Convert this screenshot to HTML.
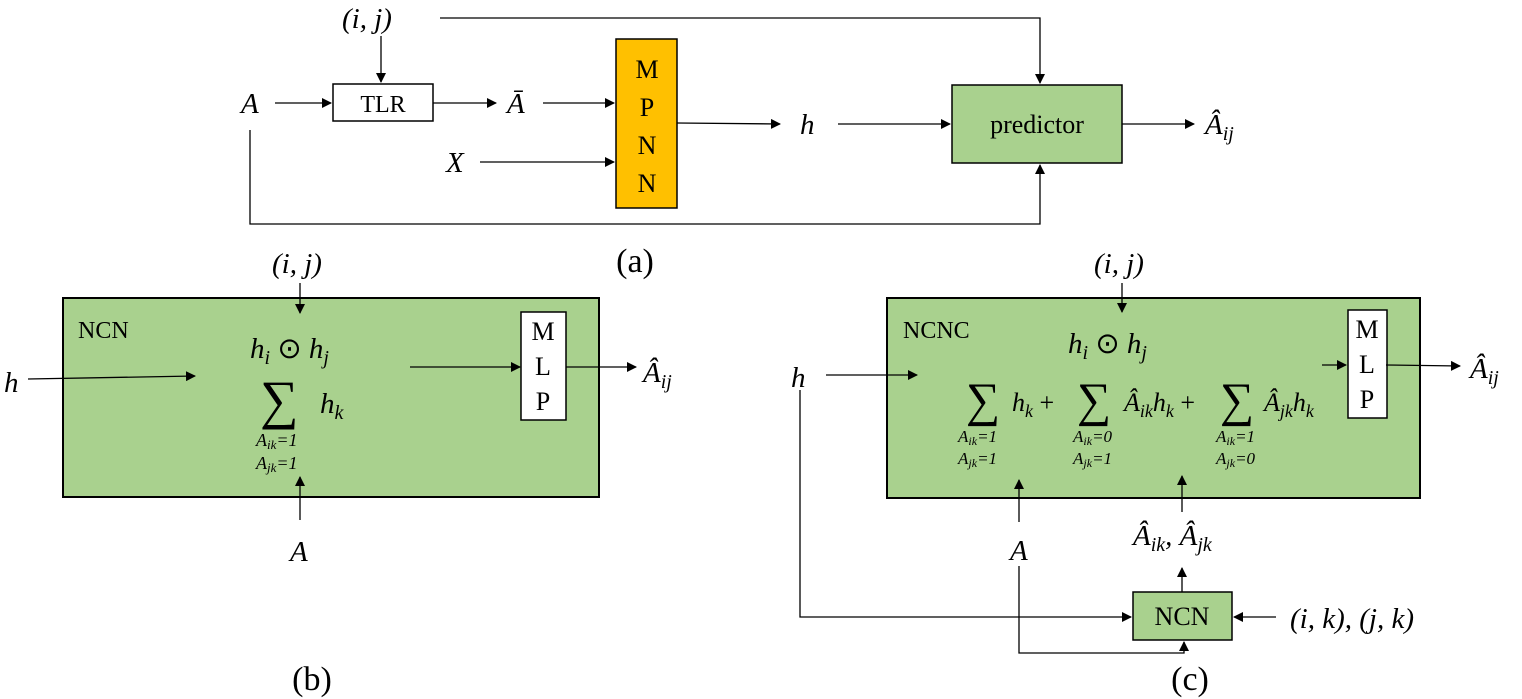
<!DOCTYPE html>
<html><head><meta charset="utf-8"><style>
html,body{margin:0;padding:0;background:#fff;}
svg{display:block;}
.m{font-family:"Liberation Serif",serif;font-style:italic;}
.r{font-family:"Liberation Serif",serif;}
</style></head><body>
<svg width="1522" height="699" viewBox="0 0 1522 699" xmlns="http://www.w3.org/2000/svg">
<defs><marker id="a" markerWidth="10" markerHeight="10" refX="9" refY="5" orient="auto" markerUnits="userSpaceOnUse"><path d="M0,0 L10,5 L0,10 z" fill="#000"/></marker></defs>
<rect x="333" y="84" width="100" height="37" fill="#fff" stroke="#000" stroke-width="1.5"/>
<rect x="616" y="39" width="61" height="169" fill="#FFC000" stroke="#000" stroke-width="1.5"/>
<rect x="952" y="85" width="170" height="78" fill="#A9D18E" stroke="#000" stroke-width="1.5"/>
<rect x="63" y="298" width="536" height="199" fill="#A9D18E" stroke="#000" stroke-width="2"/>
<rect x="521" y="312" width="45" height="108" fill="#fff" stroke="#000" stroke-width="1.5"/>
<rect x="887" y="298" width="533" height="200" fill="#A9D18E" stroke="#000" stroke-width="2"/>
<rect x="1348" y="310" width="39" height="108" fill="#fff" stroke="#000" stroke-width="1.5"/>
<rect x="1133" y="592" width="99" height="48" fill="#A9D18E" stroke="#000" stroke-width="1.5"/>
<g stroke="#000" stroke-width="1.3" fill="none">
<polyline points="440,18 1040,18 1040,83" marker-end="url(#a)"/>
<line x1="381" y1="36" x2="381" y2="82" marker-end="url(#a)"/>
<line x1="275" y1="103" x2="331" y2="103" marker-end="url(#a)"/>
<line x1="433" y1="103" x2="496" y2="103" marker-end="url(#a)"/>
<line x1="543" y1="103" x2="614" y2="103" marker-end="url(#a)"/>
<line x1="480" y1="162" x2="614" y2="162" marker-end="url(#a)"/>
<line x1="677" y1="123" x2="780" y2="124" marker-end="url(#a)"/>
<line x1="838" y1="124" x2="950" y2="124" marker-end="url(#a)"/>
<line x1="1122" y1="124" x2="1194" y2="124" marker-end="url(#a)"/>
<polyline points="250,130 250,224 1040,224 1040,165" marker-end="url(#a)"/>
<line x1="300" y1="283" x2="300" y2="313" marker-end="url(#a)"/>
<line x1="28" y1="379" x2="195" y2="376" marker-end="url(#a)"/>
<line x1="410" y1="367" x2="520" y2="367" marker-end="url(#a)"/>
<line x1="566" y1="367" x2="636" y2="367" marker-end="url(#a)"/>
<line x1="300" y1="520" x2="300" y2="477" marker-end="url(#a)"/>
<line x1="1122" y1="283" x2="1122" y2="312" marker-end="url(#a)"/>
<line x1="826" y1="375" x2="917" y2="375" marker-end="url(#a)"/>
<line x1="1322" y1="365" x2="1346" y2="365" marker-end="url(#a)"/>
<line x1="1386" y1="365" x2="1460" y2="366" marker-end="url(#a)"/>
<line x1="1019" y1="522" x2="1019" y2="480" marker-end="url(#a)"/>
<line x1="1182" y1="512" x2="1182" y2="476" marker-end="url(#a)"/>
<line x1="1182" y1="592" x2="1182" y2="568" marker-end="url(#a)"/>
<polyline points="800,390 800,617 1131,617" marker-end="url(#a)"/>
<polyline points="1019,566 1019,653 1184,653 1184,642" marker-end="url(#a)"/>
<line x1="1276" y1="617" x2="1234" y2="617" marker-end="url(#a)"/>
</g>
<g font-size="29" fill="#000">
<text class="m" x="342" y="28">(i, j)</text>
<text class="m" x="241" y="113">A</text>
<text class="r" x="383" y="112" text-anchor="middle" font-size="24">TLR</text>
<text class="m" x="507" y="113">Ā</text>
<g class="r" text-anchor="middle" font-size="26"><text x="647" y="78">M</text><text x="647" y="116">P</text><text x="647" y="154">N</text><text x="647" y="192">N</text></g>
<text class="m" x="800" y="134">h</text>
<text class="m" x="446" y="172">X</text>
<text class="r" x="1037" y="133" text-anchor="middle" font-size="26">predictor</text>
<text class="m" x="1205" y="134">Â<tspan font-size="20" dy="6">ij</tspan></text>
<text class="r" x="635" y="272" text-anchor="middle" font-size="34">(a)</text>

<text class="m" x="272" y="273">(i, j)</text>
<text class="r" x="78" y="338" font-size="24">NCN</text>
<text class="m" x="250" y="358">h<tspan font-size="20" dy="6">i</tspan><tspan dy="-6" font-style="normal"> ⊙ </tspan>h<tspan font-size="20" dy="6">j</tspan></text>
<text class="m" x="4" y="392">h</text>
<text class="r" x="260" y="418" font-size="54">∑</text>
<text class="m" x="320" y="413">h<tspan font-size="20" dy="6">k</tspan></text>
<text class="m" x="256" y="446" font-size="18">A<tspan font-size="13" dy="3">ik</tspan><tspan dy="-3">=1</tspan></text>
<text class="m" x="256" y="469" font-size="18">A<tspan font-size="13" dy="3">jk</tspan><tspan dy="-3">=1</tspan></text>
<g class="r" text-anchor="middle" font-size="26"><text x="543" y="340">M</text><text x="543" y="375">L</text><text x="543" y="410">P</text></g>
<text class="m" x="643" y="382">Â<tspan font-size="20" dy="6">ij</tspan></text>
<text class="m" x="290" y="561">A</text>
<text class="r" x="312" y="690" text-anchor="middle" font-size="34">(b)</text>

<text class="m" x="1094" y="273">(i, j)</text>
<text class="r" x="903" y="338" font-size="24">NCNC</text>
<text class="m" x="1068" y="353">h<tspan font-size="20" dy="6">i</tspan><tspan dy="-6" font-style="normal"> ⊙ </tspan>h<tspan font-size="20" dy="6">j</tspan></text>
<text class="m" x="791" y="387">h</text>
<text class="r" x="966" y="416" font-size="48">∑</text>
<text class="m" x="1012" y="411" font-size="26">h<tspan font-size="18" dy="6">k</tspan><tspan dy="-6" font-style="normal"> + </tspan></text>
<text class="r" x="1077" y="416" font-size="48">∑</text>
<text class="m" x="1124" y="411" font-size="26">Â<tspan font-size="18" dy="6">ik</tspan><tspan dy="-6">h</tspan><tspan font-size="18" dy="6">k</tspan><tspan dy="-6" font-style="normal"> + </tspan></text>
<text class="r" x="1220" y="416" font-size="48">∑</text>
<text class="m" x="1264" y="411" font-size="26">Â<tspan font-size="18" dy="6">jk</tspan><tspan dy="-6">h</tspan><tspan font-size="18" dy="6">k</tspan></text>
<g class="m" font-size="17">
<text x="958" y="442">A<tspan font-size="12" dy="3">ik</tspan><tspan dy="-3">=1</tspan></text>
<text x="958" y="464">A<tspan font-size="12" dy="3">jk</tspan><tspan dy="-3">=1</tspan></text>
<text x="1073" y="442">A<tspan font-size="12" dy="3">ik</tspan><tspan dy="-3">=0</tspan></text>
<text x="1073" y="464">A<tspan font-size="12" dy="3">jk</tspan><tspan dy="-3">=1</tspan></text>
<text x="1216" y="442">A<tspan font-size="12" dy="3">ik</tspan><tspan dy="-3">=1</tspan></text>
<text x="1216" y="464">A<tspan font-size="12" dy="3">jk</tspan><tspan dy="-3">=0</tspan></text>
</g>
<g class="r" text-anchor="middle" font-size="26"><text x="1367" y="338">M</text><text x="1367" y="373">L</text><text x="1367" y="408">P</text></g>
<text class="m" x="1470" y="378">Â<tspan font-size="20" dy="6">ij</tspan></text>
<text class="m" x="1010" y="560">A</text>
<text class="m" x="1133" y="545">Â<tspan font-size="20" dy="6">ik</tspan><tspan dy="-6">, Â</tspan><tspan font-size="20" dy="6">jk</tspan></text>
<text class="r" x="1182" y="625" text-anchor="middle" font-size="26">NCN</text>
<text class="m" x="1290" y="628">(i, k), (j, k)</text>
<text class="r" x="1190" y="690" text-anchor="middle" font-size="34">(c)</text>
</g>
</svg>
</body></html>
